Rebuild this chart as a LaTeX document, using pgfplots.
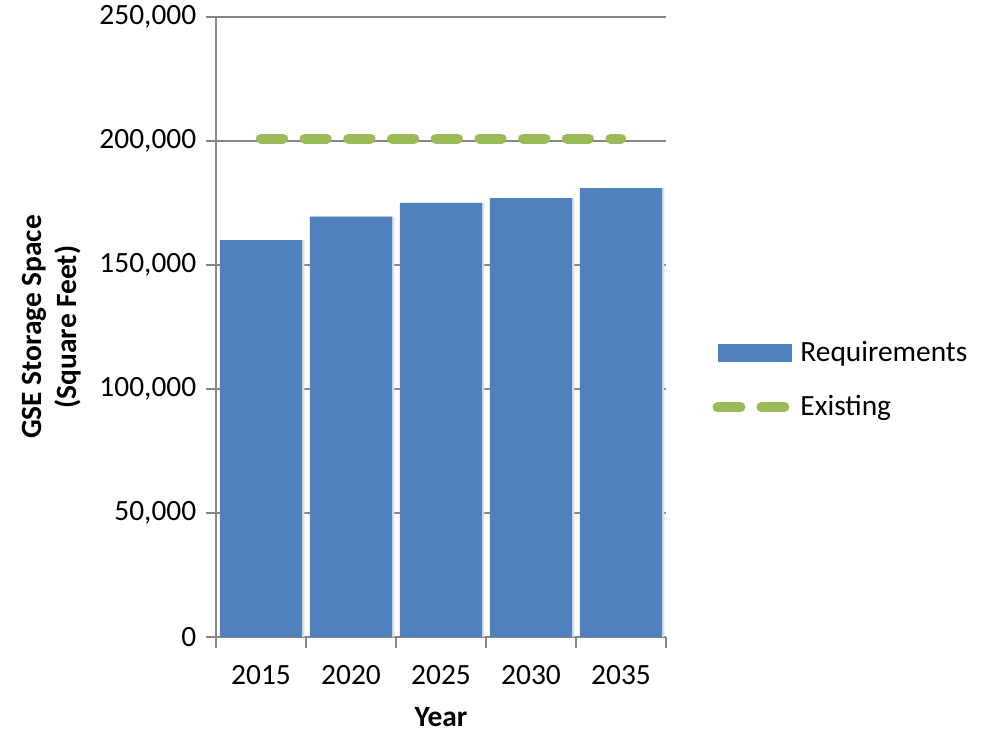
\documentclass[border=0pt]{standalone}
\usepackage{fontspec}
\setmainfont{Carlito}
\usepackage{pgfplots}
\pgfplotsset{compat=1.18}
\definecolor{reqblue}{HTML}{4F81BD}
\definecolor{exgreen}{HTML}{9BBB59}
\definecolor{axgray}{HTML}{878787}
\begin{document}
\fontsize{14.7}{17.6}\selectfont
\begin{tikzpicture}
\begin{axis}[
  scale only axis, width=225pt, height=310pt,
  xmin=-0.5, xmax=4.5, ymin=0, ymax=250000,
  axis lines=left, axis line style={-, draw=axgray, line width=1.3pt},
  ymajorgrids, major grid style={draw=axgray, line width=0.8pt},
  ytick={0,50000,100000,150000,200000,250000},
  yticklabels={{0},{50,000},{100,000},{150,000},{200,000},{250,000}},
  scaled y ticks=false,
  tick align=outside, major tick length=4.8pt,
  tick style={draw=axgray, line width=1pt},
  xtick={0,1,2,3,4}, xticklabels={2015,2020,2025,2030,2035},
  xtick style={draw=none},
  extra x ticks={-0.5,0.5,1.5,2.5,3.5,4.5}, extra x tick labels={},
  extra x tick style={xtick style={draw=axgray, line width=1pt}, major tick length=5.5pt},
  xticklabel style={yshift=-4.5pt},
  xlabel={Year}, xlabel style={font=\bfseries, at={(axis description cs:0.5,-0.129)}, anchor=center},
  ylabel={GSE Storage Space\\(Square Feet)},
  ylabel style={font=\bfseries, align=center, at={(axis description cs:-0.365,0.5)}, anchor=center},
  legend style={draw=none, fill=none, at={(1.089,0.414)}, anchor=west, row sep=10.5pt,
    /tikz/every even column/.append style={column sep=0pt},
    /tikz/every odd column/.append style={column sep=2pt}},
  legend cell align=left,
]
\coordinate (SW) at (rel axis cs:0,0);
\coordinate (NE) at (rel axis cs:1,1);
\addplot[ybar, bar width=0.915, bar shift=0.025, fill=black!13, draw=none, forget plot]
  coordinates {(0,160000)(1,169500)(2,175000)(3,177000)(4,181000)};
\addplot[ybar, bar width=0.915, bar shift=0, fill=reqblue, draw=none,
  legend image code/.code={\fill[reqblue] (0pt,-4.5pt) rectangle (37pt,4.5pt);}]
  coordinates {(0,160000)(1,169500)(2,175000)(3,177000)(4,181000)};
\addlegendentry{Requirements}
\addplot[exgreen, line width=5pt, line cap=round, dash pattern=on 11pt off 10.85pt,
  legend image code/.code={\draw[exgreen, line width=5pt, line cap=round, dash pattern=on 11.5pt off 10.5pt] (-0.5pt,0pt) -- (33pt,0pt);}]
  coordinates {(0,201000)(4,201000)};
\addlegendentry{Existing}
\end{axis}
\pgfresetboundingbox
\path[use as bounding box] ([xshift=-108pt,yshift=-47pt]SW) rectangle ([xshift=160pt,yshift=8.5pt]NE);
\end{tikzpicture}
\end{document}
